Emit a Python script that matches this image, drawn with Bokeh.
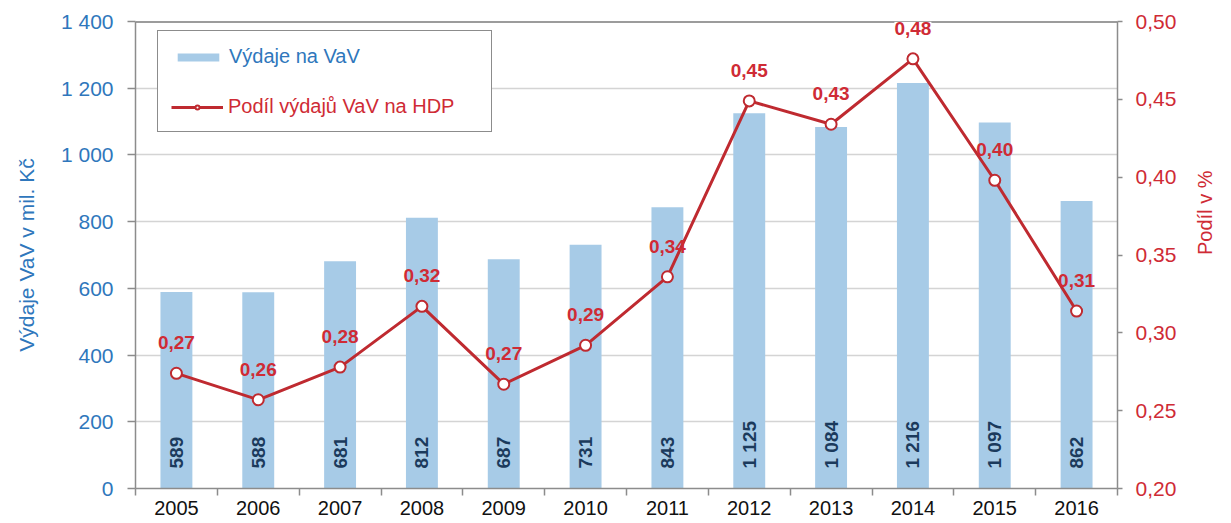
import numpy as np
from bokeh.plotting import figure
from bokeh.models import (Range1d, LinearAxis, FixedTicker, ColumnDataSource,
                          Legend, LegendItem, Span)
from bokeh.embed import file_html
from bokeh.resources import INLINE
from bokeh.core.properties import value

# ---------------- data ----------------
years = ["2005", "2006", "2007", "2008", "2009", "2010",
         "2011", "2012", "2013", "2014", "2015", "2016"]
spending = [589, 588, 681, 812, 687, 731, 843, 1125, 1084, 1216, 1097, 862]
share = [0.274, 0.257, 0.278, 0.317, 0.267, 0.292, 0.336, 0.449, 0.434, 0.476, 0.398, 0.314]

left_ticks = [0, 200, 400, 600, 800, 1000, 1200, 1400]
left_tick_labels = ["0", "200", "400", "600", "800", "1 000", "1 200", "1 400"]
right_ticks = [0.20, 0.25, 0.30, 0.35, 0.40, 0.45, 0.50]
right_tick_labels = ["0,20", "0,25", "0,30", "0,35", "0,40", "0,45", "0,50"]

left_title = "Výdaje VaV v mil. Kč"
right_title = "Podíl  v %"

# ---------------- style ----------------
FONT = "Liberation Sans"
BLUE_TXT = "#2F77BC"
RED_TXT = "#CF2B35"
RED_LINE = "#BF2A30"
BAR = "#A7CBE7"
BAR_LBL = "#1B3A5C"
AXIS = "#8C8C8C"
GRID = "#D4D4D4"

idx = list(range(len(years)))
src = ColumnDataSource(dict(
    x=idx,
    spend=spending,
    spend_lbl=[f"{v:,}".replace(",", " ") for v in spending],
    share=share,
    share_lbl=[f"{v:.2f}".replace(".", ",") for v in share],
    bg=[1.0 if v == max(share) else 0.0 for v in share],
))

p = figure(width=1230, height=522, output_backend="svg", toolbar_location=None, tools="",
           x_range=Range1d(-0.5, len(years) - 0.5),
           y_range=Range1d(left_ticks[0], left_ticks[-1]),
           min_border_left=135, min_border_right=109,
           min_border_top=21, min_border_bottom=34)
p.extra_y_ranges = {"share": Range1d(right_ticks[0], right_ticks[-1])}
p.outline_line_color = None
p.background_fill_color = "white"
p.border_fill_color = "white"

# grid
p.xgrid.visible = False
p.ygrid.ticker = FixedTicker(ticks=left_ticks)
p.ygrid.grid_line_color = GRID
p.ygrid.grid_line_width = 1.5

p.add_layout(Span(location=left_ticks[-1], dimension="width", line_color="#3A3A3A",
                  line_width=2, level="underlay"))

# x axis
xa = p.xaxis[0]
xa.ticker = FixedTicker(ticks=idx, minor_ticks=[i - 0.5 for i in idx] + [idx[-1] + 0.5])
xa.major_label_overrides = {i: y for i, y in zip(idx, years)}
xa.major_tick_line_color = None
xa.major_tick_out = 0
xa.major_tick_in = 0
xa.minor_tick_line_color = AXIS
xa.minor_tick_line_width = 1.5
xa.minor_tick_out = 7
xa.minor_tick_in = 0
xa.axis_line_color = AXIS
xa.axis_line_width = 1.5
xa.major_label_standoff = 5
xa.major_label_text_font = FONT
xa.major_label_text_font_size = "20px"
xa.major_label_text_color = "#111111"

# left axis
ya = p.yaxis[0]
ya.ticker = FixedTicker(ticks=left_ticks)
ya.major_label_overrides = dict(zip(left_ticks, left_tick_labels))
ya.minor_tick_line_color = None
ya.major_tick_out = 8
ya.major_tick_in = 0
ya.major_tick_line_color = AXIS
ya.major_tick_line_width = 1.5
ya.axis_line_color = AXIS
ya.axis_line_width = 1.5
ya.major_label_standoff = 14
ya.major_label_text_font = FONT
ya.major_label_text_font_size = "21px"
ya.major_label_text_color = BLUE_TXT
ya.axis_label = left_title
ya.axis_label_text_font = FONT
ya.axis_label_text_font_style = "normal"
ya.axis_label_text_font_size = "21px"
ya.axis_label_text_color = BLUE_TXT
ya.axis_label_standoff = 20

# right axis
ra = LinearAxis(y_range_name="share", ticker=FixedTicker(ticks=right_ticks),
                major_label_overrides=dict(zip(right_ticks, right_tick_labels)))
ra.minor_tick_line_color = None
ra.major_tick_out = 5
ra.major_tick_in = 0
ra.major_tick_line_color = AXIS
ra.major_tick_line_width = 1.5
ra.axis_line_color = AXIS
ra.axis_line_width = 1.5
ra.major_label_standoff = 13
ra.major_label_text_font = FONT
ra.major_label_text_font_size = "21px"
ra.major_label_text_color = RED_TXT
ra.axis_label = right_title
ra.axis_label_text_font = FONT
ra.axis_label_text_font_style = "normal"
ra.axis_label_text_font_size = "20px"
ra.axis_label_text_color = RED_TXT
ra.axis_label_standoff = 26
if "axis_label_orientation" in ra.properties():
    ra.axis_label_orientation = np.pi / 2
p.add_layout(ra, "right")

# bars
bars = p.vbar(x="x", top="spend", width=0.39, source=src, fill_color=BAR, line_color=None)
p.text(x="x", y=0, text="spend_lbl", source=src, angle=np.pi / 2,
       text_align="left", text_baseline="middle", y_offset=-20,
       text_font=value(FONT), text_font_style="bold", text_font_size="19px",
       text_color=BAR_LBL)

# line
line_r = p.line(x="x", y="share", source=src, y_range_name="share",
                line_color=RED_LINE, line_width=3)
dots = p.scatter(x="x", y="share", source=src, y_range_name="share", size=11,
                 fill_color="white", line_color=RED_LINE, line_width=2)
p.text(x="x", y="share", text="share_lbl", source=src, y_range_name="share",
       text_align="center", text_baseline="bottom", y_offset=-24,
       text_font=value(FONT), text_font_style="bold", text_font_size="19px",
       text_color=RED_TXT, background_fill_color="white", background_fill_alpha="bg")

# legend (two overlaid legends to get per-item label colours)
dummy = p.line(x=[], y=[], line_alpha=0)
common = dict(location=(22, 356), glyph_width=52, glyph_height=10, label_height=22,
              label_width=248, spacing=27, padding=14, label_standoff=5, margin=0,
              label_text_font=FONT, label_text_font_size="20px")
legA = Legend(items=[LegendItem(label="Výdaje na VaV", renderers=[bars]),
                     LegendItem(label=" ", renderers=[dummy])],
              border_line_color="#1A1A1A", border_line_width=1.5,
              background_fill_color="white", background_fill_alpha=1.0,
              label_text_color=BLUE_TXT, **common)
legB = Legend(items=[LegendItem(label="Podíl výdajů VaV na HDP", renderers=[line_r, dots])],
              border_line_color="white", border_line_alpha=0.0,
              background_fill_alpha=0.0,
              label_text_color=RED_TXT, **common)
p.add_layout(legA)
p.add_layout(legB)

open("out.html", "w").write(file_html(p, INLINE))
